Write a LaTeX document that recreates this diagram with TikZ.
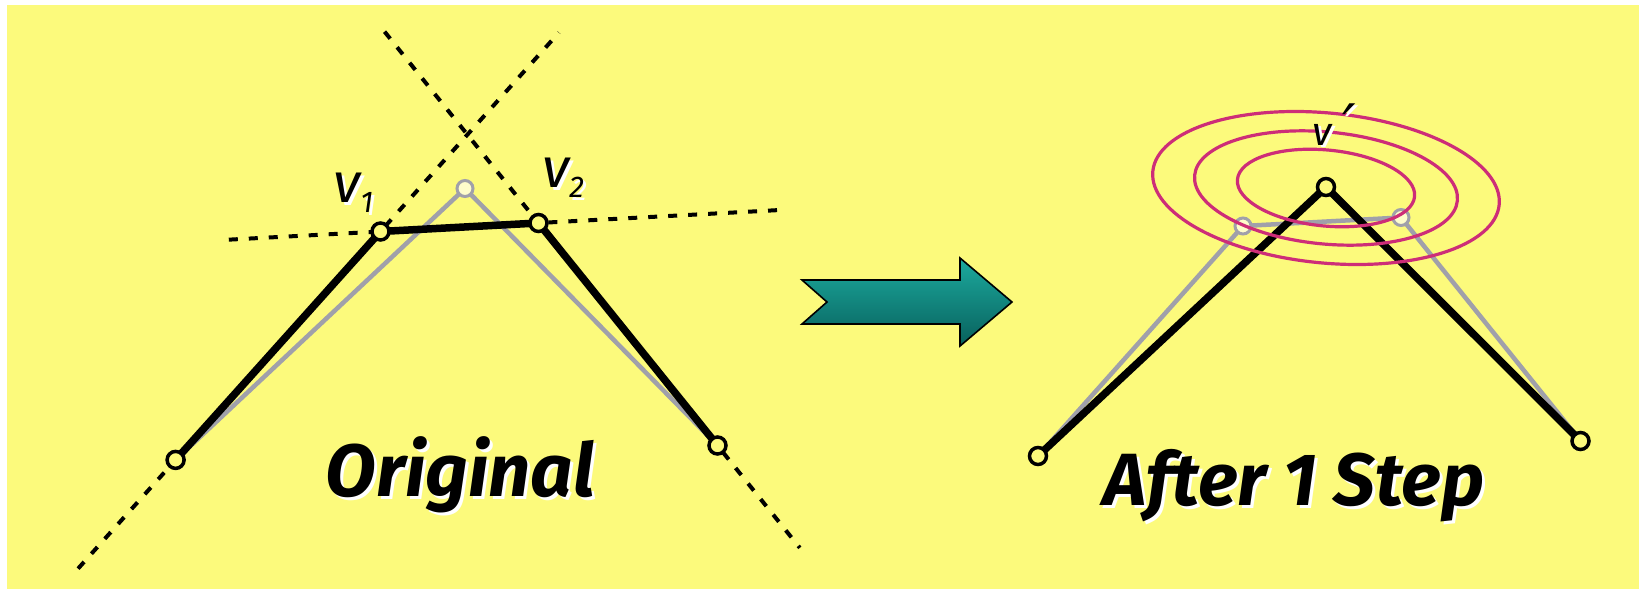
\documentclass[tikz,border=0pt]{standalone}
\usepackage{fontspec}
\setmainfont{Fira Sans}
\newfontfamily\symfont{DejaVu Sans}
\usetikzlibrary{calc}
\definecolor{bgyellow}{RGB}{252,250,124}
\definecolor{oldgray}{RGB}{160,160,170}
\definecolor{ringpink}{RGB}{205,45,120}
\definecolor{tealtop}{RGB}{28,170,158}
\definecolor{tealbot}{RGB}{8,96,92}
\tikzset{
  dashline/.style={line width=4pt,dash pattern=on 9pt off 11pt,black},
  oldline/.style={line width=4.5pt,oldgray,line join=round},
  newline/.style={line width=7.5pt,black,line join=round,line cap=round},
  vtx/.style={circle,draw=black,line width=3.5pt,fill=bgyellow,minimum size=17pt,inner sep=0pt},
  oldvtx/.style={circle,draw=oldgray,line width=3pt,fill=bgyellow!40!white,minimum size=16pt,inner sep=0pt},
  ring/.style={ringpink,line width=3.2pt},
  bigtext/.style={font=\fontsize{74}{80}\selectfont\bfseries\itshape,inner sep=0pt},
  vlabel/.style={font=\fontsize{56}{60}\selectfont\itshape,inner sep=0pt},
}
\begin{document}
\begin{tikzpicture}[x=1pt,y=-1pt]
\useasboundingbox (0,0) rectangle (1639,589);
\fill[white] (0,0) rectangle (1639,589);
\fill[bgyellow] (7,5) rectangle (1639,589);

% ---------- left: original ----------
\coordinate (L0) at (175.6,459.9);
\coordinate (V1) at (380.5,231.5);
\coordinate (V2) at (538.5,223);
\coordinate (R0) at (717.5,445.5);
\coordinate (G)  at (465,188.5);

\draw[dashline] ($(L0)!-0.476!(V1)$) -- ($(L0)!1.871!(V1)$);
\draw[dashline] ($(V2)!-0.86!(R0)$) -- ($(V2)!1.46!(R0)$);
\draw[dashline] ($(V1)!-0.96!(V2)$) -- ($(V1)!2.56!(V2)$);

\draw[oldline] (L0) -- (G) -- (R0);
\draw[newline] (L0) -- (V1) -- (V2) -- (R0);

\node[oldvtx] (Gc) at (G) {};
\node[vtx] (L0c) at (L0) {};
\node[vtx] (V1c) at (V1) {};
\node[vtx] (V2c) at (V2) {};
\node[vtx] (R0c) at (R0) {};

\node[vlabel,anchor=base west,white] at (336,205) {v\raisebox{-10pt}{\fontsize{30}{30}\selectfont 1}};
\node[vlabel,anchor=base west] (lv1) at (333,202) {v\raisebox{-10pt}{\fontsize{30}{30}\selectfont 1}};
\node[vlabel,anchor=base west,white] at (545,190) {v\raisebox{-10pt}{\fontsize{30}{30}\selectfont 2}};
\node[vlabel,anchor=base west] (lv2) at (542,187) {v\raisebox{-10pt}{\fontsize{30}{30}\selectfont 2}};

\node[bigtext,anchor=base,white] at (463,499) {Original};
\node[bigtext,anchor=base] (orig) at (460,496) {Original};

% ---------- arrow ----------
\draw[line width=1.6pt,black,top color=tealtop,bottom color=tealbot]
  (802,280) -- (960,280) -- (960,258) -- (1012,302) -- (960,346) -- (960,324) -- (802,324) -- (827,302) -- cycle;

% ---------- right: after 1 step ----------
\coordinate (P0) at (1038,456);
\coordinate (A)  at (1326,187);
\coordinate (P3) at (1580.5,441);
\coordinate (g1) at (1243,226);
\coordinate (g2) at (1401,217.5);

\draw[oldline] (P0) -- (g1) -- (g2) -- (P3);
\draw[newline] (P0) -- (A) -- (P3);

\node[oldvtx] (g1c) at (g1) {};
\node[oldvtx] (g2c) at (g2) {};
\node[vtx] (P0c) at (P0) {};
\node[vtx] (P3c) at (P3) {};
\node[vtx] (Ac) at (A) {};

\draw[ring,rotate around={-5.5:(1326,188)}] (1326,188) ellipse [x radius=89pt,y radius=38pt];
\draw[ring,rotate around={-5.5:(1326,188)}] (1326,188) ellipse [x radius=132pt,y radius=56pt];
\draw[ring,rotate around={-5.5:(1326,188)}] (1326,188) ellipse [x radius=174pt,y radius=75pt];

\node[font=\fontsize{40}{40}\selectfont\itshape,inner sep=0pt,anchor=base west,white] at (1315,147) {v\hspace{11pt}\raisebox{-2pt}{\fontsize{60}{60}\symfont ′}};
\node[font=\fontsize{40}{40}\selectfont\itshape,inner sep=0pt,anchor=base west] (vp) at (1312,145) {v\hspace{11pt}\raisebox{-2pt}{\fontsize{60}{60}\symfont ′}};

\node[bigtext,anchor=base,white] at (1296.5,508) {After 1 Step};
\node[bigtext,anchor=base] (after) at (1293.5,505) {After 1 Step};
\end{tikzpicture}
\end{document}
